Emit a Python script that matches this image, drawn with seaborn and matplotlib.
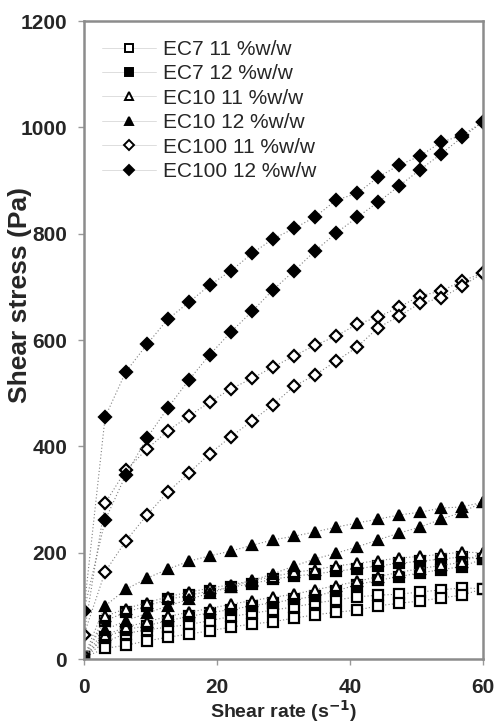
import matplotlib
matplotlib.use("Agg")
import matplotlib.pyplot as plt
from matplotlib.lines import Line2D
import seaborn as sns
import pandas as pd

# shear rate steps (s^-1)
shear_rate = [0, 3.2, 6.3, 9.5, 12.6, 15.8, 18.9, 22.1, 25.3, 28.4,
              31.6, 34.7, 37.9, 41.1, 44.2, 47.4, 50.5, 53.7, 56.8, 60]

# shear stress (Pa), upper and lower branch of each loop
ec7_11_up = [3, 32, 48, 55, 60, 65, 72, 80, 86, 92, 98, 105, 111, 117, 120, 122, 126, 130, 134, 132]
ec7_11_down = [3, 20, 26, 34, 41, 47, 53, 60, 66, 70, 77, 83, 88, 92, 100, 105, 109, 115, 120, 132]
ec7_12_up = [3, 72, 88, 100, 112, 120, 128, 135, 142, 150, 156, 160, 165, 170, 175, 180, 184, 188, 192, 188]
ec7_12_down = [3, 42, 55, 63, 72, 80, 87, 93, 100, 106, 112, 118, 128, 140, 148, 155, 162, 168, 174, 188]
ec10_11_up = [3, 80, 95, 106, 117, 126, 133, 140, 147, 155, 163, 168, 175, 180, 185, 190, 193, 197, 201, 200]
ec10_11_down = [3, 45, 60, 70, 80, 88, 95, 103, 110, 116, 122, 130, 138, 146, 155, 163, 170, 176, 182, 200]
ec10_12_up = [3, 100, 131, 152, 169, 184, 194, 203, 214, 224, 231, 239, 248, 256, 263, 271, 276, 284, 286, 295]
ec10_12_down = [3, 55, 72, 86, 100, 112, 124, 136, 148, 160, 175, 188, 199, 211, 224, 237, 248, 263, 276, 295]
ec100_11_up = [45, 293, 355, 395, 429, 457, 483, 508, 528, 549, 570, 590, 607, 630, 643, 662, 683, 692, 711, 726]
ec100_11_down = [45, 164, 222, 271, 314, 350, 386, 418, 448, 478, 513, 534, 560, 587, 623, 645, 669, 679, 701, 726]
ec100_12_up = [90, 455, 540, 592, 639, 671, 703, 730, 763, 790, 810, 831, 863, 876, 906, 929, 946, 972, 985, 1010]
ec100_12_down = [90, 261, 346, 416, 472, 525, 572, 615, 654, 694, 730, 767, 801, 831, 859, 890, 920, 950, 981, 1010]

series_names = ["EC7 11 %w/w", "EC7 12 %w/w", "EC10 11 %w/w",
                "EC10 12 %w/w", "EC100 11 %w/w", "EC100 12 %w/w"]
series_up = [ec7_11_up, ec7_12_up, ec10_11_up, ec10_12_up, ec100_11_up, ec100_12_up]
series_down = [ec7_11_down, ec7_12_down, ec10_11_down, ec10_12_down, ec100_11_down, ec100_12_down]

markers = ["s", "s", "^", "^", "D", "D"]
faces = ["white", "black", "white", "black", "white", "black"]
sizes = [6.5, 6.5, 7, 7, 6.3, 6.3]

rows = []
for name, up, down in zip(series_names, series_up, series_down):
    for branch, vals in (("up", up), ("down", down)):
        for r, s in zip(shear_rate, vals):
            rows.append({"series": name, "branch": branch, "rate": r, "stress": s})
df = pd.DataFrame(rows)

sns.set_style("white")
plt.rcParams["font.family"] = ["Liberation Sans", "DejaVu Sans"]

fig = plt.figure(figsize=(4.99, 7.25), dpi=100)
ax = fig.add_axes([0.168, 0.091, 0.8, 0.88])

line_kw = dict(color="#808080", linewidth=0.8, linestyle=(0, (1, 2)))

for name, m, fc, ms in zip(series_names, markers, faces, sizes):
    for branch in ("up", "down"):
        sub = df[(df["series"] == name) & (df["branch"] == branch)]
        sns.lineplot(data=sub, x="rate", y="stress", ax=ax, sort=False,
                     estimator=None, marker=m, markersize=ms,
                     markerfacecolor=fc, markeredgecolor="black",
                     markeredgewidth=1.6, **line_kw)

ax.set_xlim(0, 60)
ax.set_ylim(0, 1200)
ax.set_xticks([0, 20, 40, 60])
ax.set_yticks([0, 200, 400, 600, 800, 1000, 1200])
ax.tick_params(axis="both", direction="out", length=4, width=1, color="#999999",
               labelsize=15, bottom=True, left=True)
ax.tick_params(axis="y", pad=8)
ax.tick_params(axis="x", pad=10)
for lab in ax.get_xticklabels() + ax.get_yticklabels():
    lab.set_fontweight("bold")
for sp in ax.spines.values():
    sp.set_color("#8c8c8c")
    sp.set_linewidth(1.8)

ax.set_xlabel("Shear rate (s$^{\\mathbf{-1}}$)", fontsize=14, fontweight="bold")
ax.xaxis.set_label_coords(0.5, -0.062)
ax.set_ylabel("Shear stress (Pa)", fontsize=19, fontweight="bold")
ax.yaxis.set_label_coords(-0.13, 0.571)

handles = []
for name, m, fc, ms in zip(series_names, markers, faces, sizes):
    handles.append(Line2D([0], [0], marker=m, markersize=ms * 0.85, markerfacecolor=fc,
                          markeredgecolor="black", markeredgewidth=1.4,
                          color="#d8d8d8", linewidth=0.6))
ax.legend(handles, series_names, loc="upper left", bbox_to_anchor=(0.015, 0.99),
          frameon=False, fontsize=15, handlelength=2.6, handletextpad=0.3,
          labelspacing=0.26, borderaxespad=0.2)

fig.savefig("out.png", dpi=100)
